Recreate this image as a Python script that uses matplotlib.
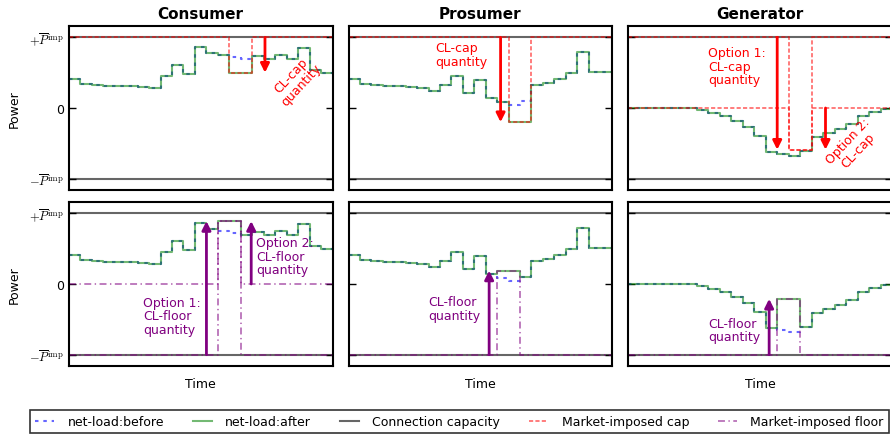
import numpy as np
import matplotlib
matplotlib.use("Agg")
import matplotlib.pyplot as plt
from matplotlib.lines import Line2D

plt.rcParams["font.family"] = ["DejaVu Sans"]
plt.rcParams["mathtext.fontset"] = "cm"
plt.rcParams["lines.scale_dashes"] = False

# ---------------------------------------------------------------- data
hours = np.arange(24)
P_IMP = 1.0

consumer_before = [0.41, 0.34, 0.32, 0.31, 0.31, 0.305, 0.30, 0.29, 0.455, 0.61,
                   0.48, 0.864, 0.775, 0.746, 0.723, 0.69, 0.737, 0.70, 0.746,
                   0.69, 0.845, 0.54, 0.50, 0.50]
prosumer_before = [0.41, 0.34, 0.32, 0.31, 0.31, 0.30, 0.29, 0.244, 0.32, 0.446,
                   0.21, 0.40, 0.14, 0.09, 0.04, 0.10, 0.32, 0.36, 0.41, 0.50,
                   0.79, 0.51, 0.51, 0.51]
generator_before = [0.0, 0.0, 0.0, 0.0, 0.0, 0.0, -0.03, -0.07, -0.11, -0.19,
                    -0.27, -0.39, -0.62, -0.65, -0.68, -0.61, -0.41, -0.36,
                    -0.30, -0.23, -0.12, -0.05, -0.01, 0.0]

# hours during which the market-imposed limit applies
cap_hours = [14, 15]
floor_hours = [13, 14]

# market-imposed limit levels inside the window
consumer_cap_level = 0.50
prosumer_cap_level = -0.20
generator_cap_level = -0.59
consumer_floor_level = 0.89
prosumer_floor_level = 0.19
generator_floor_level = -0.21

# baselines of the market-imposed limits outside the window
consumer_cap_base = [P_IMP]
prosumer_cap_base = [P_IMP]
generator_cap_base = [P_IMP, 0.0]          # option 1, option 2
consumer_floor_base = [-P_IMP, 0.0]        # option 1, option 2
prosumer_floor_base = [-P_IMP]
generator_floor_base = [-P_IMP]

titles = ["Consumer", "Prosumer", "Generator"]
ytick_vals = [-P_IMP, 0.0, P_IMP]
ytick_labels = [r"$-\overline{P}^{\rm imp}$", "0", r"$+\overline{P}^{\rm imp}$"]

# arrow annotations: (x, y_start, y_end)
cap_arrows = [
    [(17.1, P_IMP, 0.50)],
    [(13.3, P_IMP, -0.20)],
    [(13.0, P_IMP, -0.59), (17.2, 0.0, -0.59)],
]
floor_arrows = [
    [(12.0, -P_IMP, 0.89), (15.9, 0.0, 0.89)],
    [(12.3, -P_IMP, 0.19)],
    [(12.3, -P_IMP, -0.21)],
]
# annotation texts: (x, y, text, rotation, alignment)
cap_texts = [
    [(19.8, 0.40, "CL-cap\nquantity", 47, "center")],
    [(7.6, 0.76, "CL-cap\nquantity", 0, "left")],
    [(7.0, 0.59, "Option 1:\nCL-cap\nquantity", 0, "left"),
     (19.6, -0.53, "Option 2:\nCL-cap", 47, "center")],
]
floor_texts = [
    [(6.5, -0.45, "Option 1:\nCL-floor\nquantity", 0, "left"),
     (16.3, 0.39, "Option 2:\nCL-floor\nquantity", 0, "left")],
    [(7.0, -0.35, "CL-floor\nquantity", 0, "left")],
    [(7.0, -0.65, "CL-floor\nquantity", 0, "left")],
]

# ---------------------------------------------------------------- styles
BEFORE = dict(color="blue", ls=(0, (2.5, 3.5)), lw=1.5, alpha=0.6)
AFTER = dict(color="green", ls="-", lw=1.5, alpha=0.55)
CONN = dict(color="black", ls="-", lw=1.5, alpha=0.6)
CAP = dict(color="red", ls=(0, (3, 1.6)), lw=1.2, alpha=0.6)
FLOOR = dict(color="purple", ls=(0, (5, 2.5, 1, 2.5)), lw=1.2, alpha=0.6)


def windowed(base, hours_in, level):
    arr = np.full(len(hours), float(base))
    arr[hours_in] = level
    return arr


def apply_cap(series, limit):
    return np.minimum(np.asarray(series, float), limit)


def apply_floor(series, limit):
    return np.maximum(np.asarray(series, float), limit)


fig = plt.figure(figsize=(8.9, 4.35), dpi=100)
W, H = 890.0, 435.0
lefts = [68.7, 348.5, 627.7]
widths = [264.0, 263.0, 264.5]
tops = [27.0, 203.0]
ax_h = 164.0

befores = [consumer_before, prosumer_before, generator_before]
cap_levels = [consumer_cap_level, prosumer_cap_level, generator_cap_level]
cap_bases = [consumer_cap_base, prosumer_cap_base, generator_cap_base]
floor_levels = [consumer_floor_level, prosumer_floor_level, generator_floor_level]
floor_bases = [consumer_floor_base, prosumer_floor_base, generator_floor_base]

for row in range(2):
    for col in range(3):
        ax = fig.add_axes([lefts[col] / W, 1 - (tops[row] + ax_h) / H,
                           widths[col] / W, ax_h / H])
        before = np.asarray(befores[col], float)
        if row == 0:
            limits = [windowed(b, cap_hours, cap_levels[col]) for b in cap_bases[col]]
            after = apply_cap(before, limits[0])
            style, arrows, texts, tcolor = CAP, cap_arrows[col], cap_texts[col], "red"
        else:
            limits = [windowed(b, floor_hours, floor_levels[col]) for b in floor_bases[col]]
            after = apply_floor(before, limits[0])
            style, arrows, texts, tcolor = FLOOR, floor_arrows[col], floor_texts[col], "purple"

        ax.axhline(P_IMP, **CONN)
        ax.axhline(-P_IMP, **CONN)
        ax.step(hours, before, where="post", **BEFORE)
        ax.step(hours, after, where="post", **AFTER)
        for lim in limits:
            ax.step(hours, lim, where="post", **style)

        for x, y0, y1 in arrows:
            ax.annotate("", xy=(x, y1), xytext=(x, y0),
                        arrowprops=dict(arrowstyle="-|>", color=tcolor, lw=2.0,
                                        mutation_scale=13, shrinkA=0, shrinkB=0))
        for x, y, s, rot, ha in texts:
            ax.text(x, y, s, color=tcolor, fontsize=9, rotation=rot, ha=ha,
                    va="center", rotation_mode="anchor", linespacing=1.05)

        ax.set_xlim(hours[0], hours[-1])
        ax.set_ylim(-1.16, 1.16)
        ax.set_xticks([])
        ax.set_yticks(ytick_vals)
        if col == 0:
            ax.set_yticklabels(ytick_labels, fontsize=9)
            ax.set_ylabel("Power", fontsize=9, labelpad=6)
        else:
            ax.set_yticklabels([])
        ax.tick_params(axis="y", direction="in", length=5, width=1,
                       left=True, right=True)
        for sp in ax.spines.values():
            sp.set_linewidth(1.5)
        if row == 0:
            ax.set_title(titles[col], fontsize=11, fontweight="bold", pad=6)
        else:
            ax.set_xlabel("Time", fontsize=9, labelpad=8)

handles = [
    Line2D([], [], **BEFORE),
    Line2D([], [], **AFTER),
    Line2D([], [], **CONN),
    Line2D([], [], **CAP),
    Line2D([], [], **FLOOR),
]
labels = ["net-load:before", "net-load:after", "Connection capacity",
          "Market-imposed cap", "Market-imposed floor"]
leg = fig.legend(handles, labels, loc="upper left",
                 bbox_to_anchor=(30 / W, 1 - 411 / H), bbox_transform=fig.transFigure,
                 ncol=5, fontsize=9, frameon=True, fancybox=False,
                 handlelength=1.5, handletextpad=1.1, columnspacing=2.3,
                 borderpad=0.4, borderaxespad=0)
leg.get_frame().set_edgecolor("black")
leg.get_frame().set_linewidth(1.2)

fig.savefig("out.png", dpi=100)
